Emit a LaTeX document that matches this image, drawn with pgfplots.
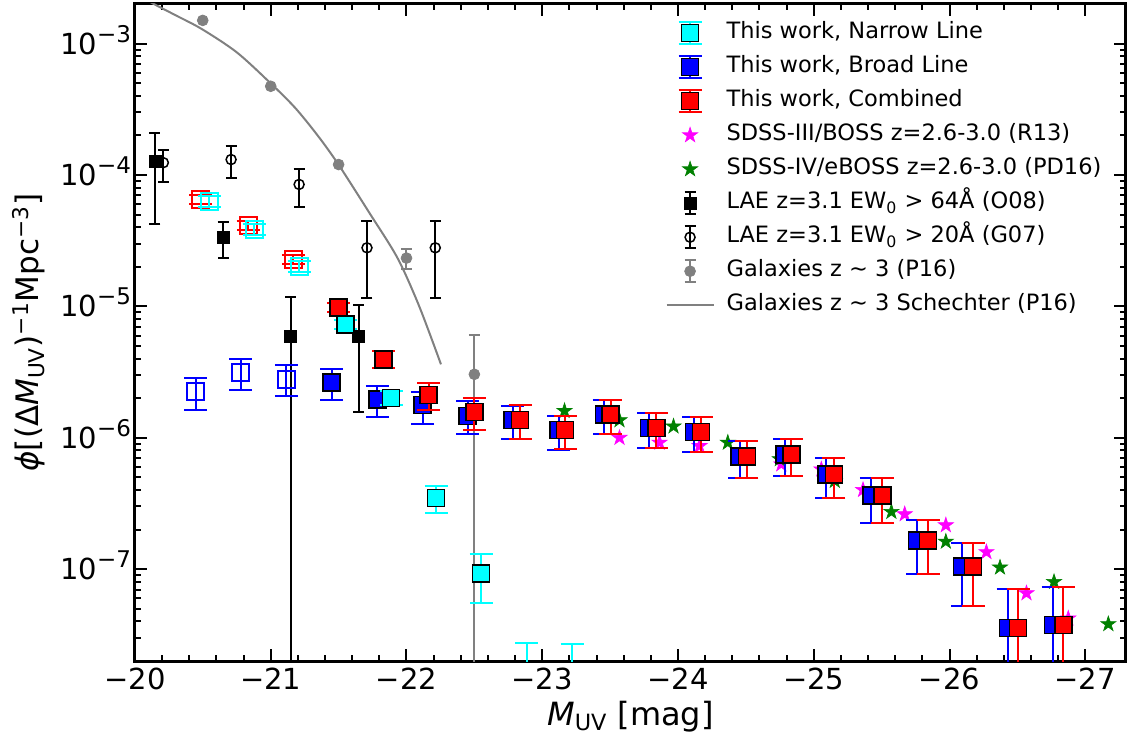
\documentclass[border=0pt]{standalone}
\usepackage{pgfplots}
\pgfplotsset{compat=1.18}
\usepackage{fontspec}
\setmainfont{DejaVu Sans}
\definecolor{mgreen}{RGB}{0,128,0}
\definecolor{mgray}{RGB}{128,128,128}
\definecolor{mcyan}{RGB}{0,255,255}
\definecolor{mblue}{RGB}{0,0,255}
\definecolor{mred}{RGB}{255,0,0}
\definecolor{mmag}{RGB}{255,0,255}
\pgfdeclareplotmark{fstar}{%
  \pgfpathmoveto{\pgfpointpolar{90}{\pgfplotmarksize}}%
  \pgfpathlineto{\pgfpointpolar{126}{0.382*\pgfplotmarksize}}%
  \pgfpathlineto{\pgfpointpolar{162}{\pgfplotmarksize}}%
  \pgfpathlineto{\pgfpointpolar{198}{0.382*\pgfplotmarksize}}%
  \pgfpathlineto{\pgfpointpolar{234}{\pgfplotmarksize}}%
  \pgfpathlineto{\pgfpointpolar{270}{0.382*\pgfplotmarksize}}%
  \pgfpathlineto{\pgfpointpolar{306}{\pgfplotmarksize}}%
  \pgfpathlineto{\pgfpointpolar{342}{0.382*\pgfplotmarksize}}%
  \pgfpathlineto{\pgfpointpolar{18}{\pgfplotmarksize}}%
  \pgfpathlineto{\pgfpointpolar{54}{0.382*\pgfplotmarksize}}%
  \pgfpathclose
  \pgfusepathqfillstroke}
\pgfplotsset{
  ebars/.style 2 args={error bars/.cd, y dir=both, y explicit,
     error bar style={line width=1pt, #1},
     error mark options={#1, rotate=90, mark size=#2, line width=1pt}},
}
\newcommand{\tlab}[1]{10\smash{\raisebox{6pt}{\fontsize{11.5}{12}\selectfont #1}}}
\begin{document}
\begin{tikzpicture}
\begin{axis}[
  scale only axis, width=495.5pt, height=328.5pt,
  at={(0,0)}, anchor=south west,
  x dir=reverse, xmin=-27.3, xmax=-20,
  ymode=log, ymin=2e-8, ymax=2e-3,
  xtick={-20,-21,-22,-23,-24,-25,-26,-27},
  xticklabels={−20,−21,−22,−23,−24,−25,−26,−27},
  minor x tick num=4,
  ytick={1e-7,1e-6,1e-5,1e-4,1e-3},
  yticklabels={\tlab{−7},\tlab{−6},\tlab{−5},\tlab{−4},\tlab{−3}},
  minor ytick={2e-8,3e-8,4e-8,5e-8,6e-8,7e-8,8e-8,9e-8,
    2e-7,3e-7,4e-7,5e-7,6e-7,7e-7,8e-7,9e-7,
    2e-6,3e-6,4e-6,5e-6,6e-6,7e-6,8e-6,9e-6,
    2e-5,3e-5,4e-5,5e-5,6e-5,7e-5,8e-5,9e-5,
    2e-4,3e-4,4e-4,5e-4,6e-4,7e-4,8e-4,9e-4,2e-3},
  tick pos=both, tick align=inside,
  major tick length=6pt, minor tick length=3pt,
  every tick/.style={black, line width=1pt},
  axis line style={line width=1.5pt},
  tick label style={font=\fontsize{14.5}{17}\selectfont},
  xticklabel style={yshift=0pt},
  yticklabel style={xshift=1.5pt},
  xlabel={\textit{M}\textsubscript{UV} [mag]},
  ylabel={\textit{ϕ}[(Δ\textit{M}\textsubscript{UV})\textsuperscript{−1}Mpc\textsuperscript{−3}]},
  xlabel style={font=\fontsize{16}{19}\selectfont, at={(axis description cs:0.5,-0.0974)}, anchor=base},
  ylabel style={font=\fontsize{15.5}{18}\selectfont, at={(axis description cs:-0.0969,0.5)}, anchor=base},
  clip marker paths=true,
  legend style={at={(axis description cs:0.535,0.982)}, anchor=north west,
    draw=none, fill=none, font=\fontsize{11.25}{13}\selectfont,
    row sep=0pt, inner sep=0pt,
    nodes={inner sep=0pt, minimum height=17pt, text height=8.2pt, text depth=2.5pt},
    /tikz/every odd column/.append style={column sep=6pt}},
  legend cell align=left,
]
% ---- legend entries ----
\addlegendimage{legend image code/.code={
  \path[draw=none, fill=none] (0pt,-8.5pt) rectangle (23.5pt,8.5pt);
  \draw[mcyan, line width=1pt] (11.75pt,-5.5pt) -- (11.75pt,5.5pt) (6pt,-5.5pt) -- (17.5pt,-5.5pt) (6pt,5.5pt) -- (17.5pt,5.5pt);
  \draw[black, fill=mcyan, line width=0.75pt] (7.5pt,-4.25pt) rectangle (16pt,4.25pt);}}
\addlegendentry{This work, Narrow Line}
\addlegendimage{legend image code/.code={
  \path[draw=none, fill=none] (0pt,-8.5pt) rectangle (23.5pt,8.5pt);
  \draw[mblue, line width=1pt] (11.75pt,-5.5pt) -- (11.75pt,5.5pt) (6pt,-5.5pt) -- (17.5pt,-5.5pt) (6pt,5.5pt) -- (17.5pt,5.5pt);
  \draw[black, fill=mblue, line width=0.75pt] (7.5pt,-4.25pt) rectangle (16pt,4.25pt);}}
\addlegendentry{This work, Broad Line}
\addlegendimage{legend image code/.code={
  \path[draw=none, fill=none] (0pt,-8.5pt) rectangle (23.5pt,8.5pt);
  \draw[mred, line width=1pt] (11.75pt,-5.5pt) -- (11.75pt,5.5pt) (6pt,-5.5pt) -- (17.5pt,-5.5pt) (6pt,5.5pt) -- (17.5pt,5.5pt);
  \draw[black, fill=mred, line width=0.75pt] (7.5pt,-4.25pt) rectangle (16pt,4.25pt);}}
\addlegendentry{This work, Combined}
\addlegendimage{legend image code/.code={
  \path[draw=none, fill=none] (0pt,-8.5pt) rectangle (23.5pt,8.5pt);
  \draw[mmag, fill=mmag, line width=0.3pt] plot[only marks, mark=fstar, mark size=4pt] coordinates {(11.75pt,0pt)};}}
\addlegendentry{SDSS-III/BOSS z=2.6-3.0 (R13)}
\addlegendimage{legend image code/.code={
  \path[draw=none, fill=none] (0pt,-8.5pt) rectangle (23.5pt,8.5pt);
  \draw[mgreen, fill=mgreen, line width=0.3pt] plot[only marks, mark=fstar, mark size=4pt] coordinates {(11.75pt,0pt)};}}
\addlegendentry{SDSS-IV/eBOSS z=2.6-3.0 (PD16)}
\addlegendimage{legend image code/.code={
  \path[draw=none, fill=none] (0pt,-8.5pt) rectangle (23.5pt,8.5pt);
  \draw[black, line width=1pt] (11.75pt,-5.5pt) -- (11.75pt,5.5pt) (9pt,-5.5pt) -- (14.5pt,-5.5pt) (9pt,5.5pt) -- (14.5pt,5.5pt);
  \fill[black] (8.75pt,-3pt) rectangle (14.75pt,3pt);}}
\addlegendentry{LAE z=3.1 EW\textsubscript{0} > 64Å (O08)}
\addlegendimage{legend image code/.code={
  \path[draw=none, fill=none] (0pt,-8.5pt) rectangle (23.5pt,8.5pt);
  \draw[black, line width=1pt] (11.75pt,-5.5pt) -- (11.75pt,5.5pt) (9pt,-5.5pt) -- (14.5pt,-5.5pt) (9pt,5.5pt) -- (14.5pt,5.5pt);
  \draw[black, line width=0.75pt] (11.75pt,0pt) circle (2.5pt);}}
\addlegendentry{LAE z=3.1 EW\textsubscript{0} > 20Å (G07)}
\addlegendimage{legend image code/.code={
  \path[draw=none, fill=none] (0pt,-8.5pt) rectangle (23.5pt,8.5pt);
  \draw[mgray, line width=1pt] (11.75pt,-5.5pt) -- (11.75pt,5.5pt) (9pt,-5.5pt) -- (14.5pt,-5.5pt) (9pt,5.5pt) -- (14.5pt,5.5pt);
  \fill[mgray] (11.75pt,0pt) circle (2.7pt);}}
\addlegendentry{Galaxies z ∼ 3 (P16)}
\addlegendimage{legend image code/.code={
  \path[draw=none, fill=none] (0pt,-8.5pt) rectangle (23.5pt,8.5pt);
  \draw[mgray, line width=1pt] (0pt,0pt) -- (23.5pt,0pt);}}
\addlegendentry{Galaxies z ∼ 3 Schechter (P16)}
% ---- Schechter curve (P16) ----
\addplot[forget plot, mgray, line width=1pt, smooth] coordinates {
(-20.0,2.40e-3) (-20.135,2.01e-3) (-20.3,1.64e-3) (-20.492,1.29e-3)
(-20.75,8.57e-4) (-20.996,5.02e-4) (-21.18,3.24e-4) (-21.35,1.97e-4)
(-21.499,1.20e-4) (-21.726,5.16e-5) (-21.934,2.33e-5) (-22.094,1.00e-5)
(-22.254,3.62e-6)};
% ---- Galaxies P16 ----
\addplot[forget plot, only marks, mark=*, mark size=2.7pt, mgray] coordinates {
(-20.499,1.50e-3) (-21.0,4.73e-4) (-21.5,1.20e-4)};
\addplot[forget plot, only marks, mark=*, mark size=2.7pt, mgray, ebars={mgray}{2.75pt}]
 table[x=x, y=y, y error plus expr=\thisrow{hi}-\thisrow{y}, y error minus expr=\thisrow{y}-\thisrow{lo}] {
x y hi lo
-22.0 2.33e-5 2.75e-5 1.94e-5
-22.5 3.04e-6 6.05e-6 1e-10
};
% ---- LAE O08 ----
\addplot[forget plot, only marks, mark=square*, mark size=3pt, black, ebars={black}{2.75pt}]
 table[x=x, y=y, y error plus expr=\thisrow{hi}-\thisrow{y}, y error minus expr=\thisrow{y}-\thisrow{lo}] {
x y hi lo
-20.147 1.26e-4 2.09e-4 4.26e-5
-20.649 3.36e-5 4.38e-5 2.33e-5
-21.148 5.89e-6 1.18e-5 1e-10
-21.647 5.89e-6 1.02e-5 1.56e-6
};
% ---- LAE G07 ----
\addplot[forget plot, only marks, mark=o, mark size=2.5pt, black, mark options={line width=0.75pt}, ebars={black}{2.75pt}]
 table[x=x, y=y, y error plus expr=\thisrow{hi}-\thisrow{y}, y error minus expr=\thisrow{y}-\thisrow{lo}] {
x y hi lo
-20.209 1.24e-4 1.56e-4 8.81e-5
-20.708 1.31e-4 1.67e-4 9.46e-5
-21.209 8.47e-5 1.11e-4 5.73e-5
-21.709 2.79e-5 4.46e-5 1.16e-5
-22.212 2.79e-5 4.46e-5 1.16e-5
};
% ---- SDSS-III/BOSS R13 ----
\addplot[forget plot, only marks, mark=fstar, mark size=4pt, mmag, mark options={fill=mmag, line width=0.3pt}] coordinates {
(-23.569,1.0e-6) (-23.864,9.18e-7) (-24.159,8.66e-7) (-24.761,6.28e-7)
(-25.056,5.75e-7) (-25.363,4.01e-7) (-25.67,2.62e-7) (-25.973,2.16e-7)
(-26.272,1.35e-7) (-26.567,6.56e-8) (-26.875,4.22e-8)};
% ---- SDSS-IV/eBOSS PD16 ----
\addplot[forget plot, only marks, mark=fstar, mark size=4pt, mgreen, mark options={fill=mgreen, line width=0.3pt}] coordinates {
(-23.164,1.60e-6) (-23.569,1.36e-6) (-23.967,1.22e-6) (-24.367,9.18e-7)
(-24.75,6.87e-7) (-25.155,4.7e-7) (-25.572,2.73e-7) (-25.973,1.62e-7)
(-26.372,1.03e-7) (-26.77,8.0e-8) (-27.17,3.82e-8)};
% ---- This work, Broad Line ----
\addplot[forget plot, only marks, mark=square, mark size=4.25pt, mblue, mark options={line width=1pt}, ebars={mblue}{5.75pt}]
 table[x=x, y=y, y error plus expr=\thisrow{hi}-\thisrow{y}, y error minus expr=\thisrow{y}-\thisrow{lo}] {
x y hi lo
-20.447 2.23e-6 2.83e-6 1.63e-6
-20.779 3.13e-6 3.95e-6 2.29e-6
-21.116 2.79e-6 3.58e-6 2.07e-6
};
\addplot[forget plot, only marks, mark=square*, mark size=4.25pt, mblue, mark options={draw=black, fill=mblue, line width=0.75pt}, ebars={mblue}{5.75pt}]
 table[x=x, y=y, y error plus expr=\thisrow{hi}-\thisrow{y}, y error minus expr=\thisrow{y}-\thisrow{lo}] {
x y hi lo
-21.448 2.63e-6 3.32e-6 1.93e-6
-21.785 1.96e-6 2.47e-6 1.43e-6
-22.118 1.77e-6 2.23e-6 1.27e-6
-22.45 1.47e-6 1.90e-6 1.06e-6
-22.782 1.36e-6 1.75e-6 9.75e-7
-23.121 1.15e-6 1.47e-6 8.07e-7
-23.455 1.50e-6 1.93e-6 1.06e-6
-23.785 1.19e-6 1.55e-6 8.36e-7
-24.117 1.11e-6 1.44e-6 7.80e-7
-24.454 7.19e-7 9.46e-7 4.98e-7
-24.786 7.45e-7 9.75e-7 5.13e-7
-25.093 5.27e-7 6.98e-7 3.51e-7
-25.425 3.63e-7 4.98e-7 2.26e-7
-25.761 1.65e-7 2.37e-7 9.2e-8
-26.093 1.05e-7 1.58e-7 5.26e-8
-26.432 3.58e-8 7.05e-8 1e-10
-26.764 3.75e-8 7.26e-8 1e-10
};
% ---- This work, Combined ----
\addplot[forget plot, only marks, mark=square, mark size=4.25pt, mred, mark options={line width=1pt}, ebars={mred}{5.75pt}]
 table[x=x, y=y, y error plus expr=\thisrow{hi}-\thisrow{y}, y error minus expr=\thisrow{y}-\thisrow{lo}] {
x y hi lo
-20.484 6.52e-5 7.1e-5 6.0e-5
-20.833 4.13e-5 4.5e-5 3.8e-5
-21.167 2.27e-5 2.47e-5 2.09e-5
};
\addplot[forget plot, only marks, mark=square*, mark size=4.25pt, mred, mark options={draw=black, fill=mred, line width=0.75pt}, ebars={mred}{5.75pt}]
 table[x=x, y=y, y error plus expr=\thisrow{hi}-\thisrow{y}, y error minus expr=\thisrow{y}-\thisrow{lo}] {
x y hi lo
-21.499 9.77e-6 1.06e-5 9.0e-6
-21.831 3.95e-6 4.57e-6 3.38e-6
-22.163 2.12e-6 2.6e-6 1.62e-6
-22.5 1.57e-6 1.99e-6 1.14e-6
-22.837 1.36e-6 1.77e-6 9.75e-7
-23.168 1.15e-6 1.47e-6 8.18e-7
-23.503 1.50e-6 1.93e-6 1.06e-6
-23.84 1.19e-6 1.55e-6 8.36e-7
-24.171 1.11e-6 1.44e-6 7.80e-7
-24.508 7.19e-7 9.46e-7 4.98e-7
-24.835 7.45e-7 9.75e-7 5.13e-7
-25.149 5.27e-7 6.98e-7 3.51e-7
-25.505 3.63e-7 4.98e-7 2.26e-7
-25.842 1.65e-7 2.37e-7 9.2e-8
-26.174 1.05e-7 1.58e-7 5.26e-8
-26.506 3.58e-8 7.05e-8 1e-10
-26.838 3.75e-8 7.26e-8 1e-10
};
% ---- This work, Narrow Line ----
\addplot[forget plot, only marks, mark=square, mark size=4.25pt, mcyan, mark options={line width=1pt}, ebars={mcyan}{5.75pt}]
 table[x=x, y=y, y error plus expr=\thisrow{hi}-\thisrow{y}, y error minus expr=\thisrow{y}-\thisrow{lo}] {
x y hi lo
-20.546 6.3e-5 6.9e-5 5.75e-5
-20.878 3.85e-5 4.2e-5 3.5e-5
-21.21 2.01e-5 2.2e-5 1.84e-5
};
\addplot[forget plot, only marks, mark=square*, mark size=4.25pt, mcyan, mark options={draw=black, fill=mcyan, line width=0.75pt}, ebars={mcyan}{5.75pt}]
 table[x=x, y=y, y error plus expr=\thisrow{hi}-\thisrow{y}, y error minus expr=\thisrow{y}-\thisrow{lo}] {
x y hi lo
-21.549 7.3e-6 7.9e-6 6.7e-6
-21.886 2.0e-6 2.25e-6 1.78e-6
-22.218 3.47e-7 4.32e-7 2.68e-7
-22.549 9.27e-8 1.31e-7 5.48e-8
-22.885 1e-8 2.73e-8 1e-10
-23.22 1e-8 2.68e-8 1e-10
};
\end{axis}
\pgfresetboundingbox
\useasboundingbox (-67.5pt,-40.5pt) rectangle (496.5pt,330.5pt);
\end{tikzpicture}
\end{document}
